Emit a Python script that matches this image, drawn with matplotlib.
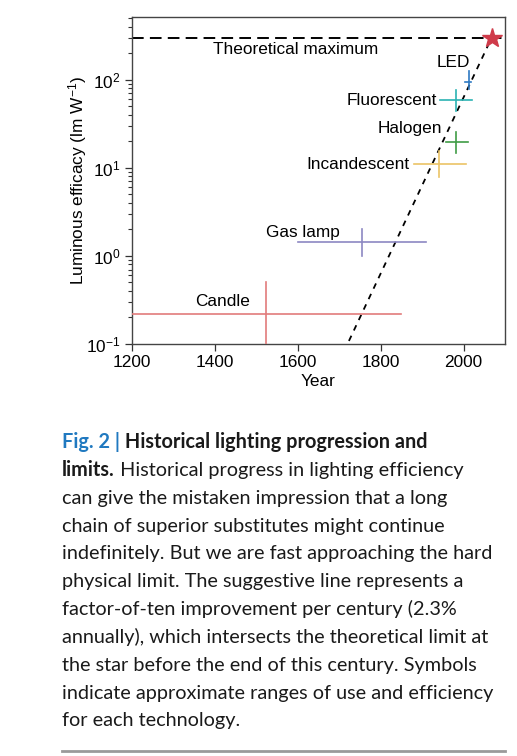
import matplotlib
matplotlib.use("Agg")
import matplotlib.pyplot as plt
import numpy as np
from matplotlib.lines import Line2D

plt.rcParams['font.family'] = ['Liberation Sans', 'DejaVu Sans']
plt.rcParams['mathtext.fontset'] = 'custom'
plt.rcParams['mathtext.rm'] = 'Liberation Sans'
plt.rcParams['mathtext.it'] = 'Liberation Sans:italic'
plt.rcParams['mathtext.bf'] = 'Liberation Sans:bold'

# technology ranges: years of use and luminous efficacy (lm/W)
techs = ["Candle", "Gas lamp", "Incandescent", "Halogen", "Fluorescent", "LED"]
year_lo = [1200, 1600, 1880, 1957, 1943, 2003]
year_mid = [1525, 1755, 1940, 1983, 1982, 2012]
year_hi = [1850, 1910, 2005, 2011, 2021, 2019]
eff_lo = [0.1, 1.0, 7.8, 14.7, 44, 79]
eff_mid = [0.22, 1.42, 11, 19.4, 59, 95]
eff_hi = [0.5, 2.0, 15.3, 25.4, 77, 124]
colors = ["#e27b7b", "#8c87c2", "#ebc466", "#3f9c45", "#2bb3b3", "#2d79c2"]

theoretical_max = 300
star_year = 2068
trend_years = [1700, 2068]

# label anchors (year, efficacy, ha)
label_pos = {
    "Candle": (1420, 0.30, "center"),
    "Gas lamp": (1614, 1.86, "center"),
    "Incandescent": (1869, 11, "right"),
    "Halogen": (1949, 28, "right"),
    "Fluorescent": (1937, 58, "right"),
    "LED": (1976, 157, "center"),
}

fs = 12.4

fig = plt.figure(figsize=(5.17, 7.56), dpi=100)
ax = fig.add_axes([0.2547, 0.545, 0.7221, 0.432])

ax.set_yscale('log')
ax.set_xlim(1200, 2100)
ax.set_ylim(0.1, 10 ** 2.706)

# theoretical maximum
ax.axhline(theoretical_max, color='black', lw=1.4, dashes=(6, 3.2), zorder=2)
ax.text(1595, 220, "Theoretical maximum", ha='center', va='center', fontsize=fs)

# factor of ten per century
ty = np.array(trend_years, dtype=float)
ax.plot(ty, theoretical_max * 10 ** ((ty - star_year) / 100.0), color='black',
        lw=1.3, dashes=(3.2, 3.2), zorder=3)
ax.plot([star_year], [theoretical_max], marker='*', color='#cf3b4a', ms=15,
        mec='#cf3b4a', zorder=5, clip_on=False)

for i, name in enumerate(techs):
    c = colors[i]
    ax.plot([year_lo[i], year_hi[i]], [eff_mid[i], eff_mid[i]], color=c, lw=1.2, zorder=4)
    ax.plot([year_mid[i], year_mid[i]], [eff_lo[i], eff_hi[i]], color=c, lw=1.2, zorder=4)
    lx, ly, ha = label_pos[name]
    ax.text(lx, ly, name, ha=ha, va='center', fontsize=fs)

ax.set_xticks([1200, 1400, 1600, 1800, 2000])
ax.set_xlabel("Year", fontsize=fs, labelpad=3)
ax.set_ylabel("Luminous efficacy (lm W$^{-1}$)", fontsize=fs, labelpad=-2)
ax.tick_params(axis='both', which='major', direction='out', length=5, width=0.9,
               labelsize=fs, color='#333333', pad=3)
ax.tick_params(axis='y', which='minor', direction='out', length=3, width=0.8, color='#333333')
ax.tick_params(axis='x', which='minor', bottom=False)
for s in ax.spines.values():
    s.set_color('#444444')
    s.set_linewidth(1.0)

# caption
renderer = fig.canvas.get_renderer()
W, H = fig.get_size_inches() * fig.dpi
cap_font = ['Lato', 'DejaVu Sans']
cap_size = 14.3
blue = '#2079c0'
ink = '#1a1a1a'

caption = [
    [("Fig. 2 |", 'bold', blue), (" Historical lighting progression and", 'bold', ink)],
    [("limits.", 'bold', ink), (" Historical progress in lighting efficiency", 'normal', ink)],
    [("can give the mistaken impression that a long", 'normal', ink)],
    [("chain of superior substitutes might continue", 'normal', ink)],
    [("indefinitely. But we are fast approaching the hard", 'normal', ink)],
    [("physical limit. The suggestive line represents a", 'normal', ink)],
    [("factor-of-ten improvement per century (2.3%", 'normal', ink)],
    [("annually), which intersects the theoretical limit at", 'normal', ink)],
    [("the star before the end of this century. Symbols", 'normal', ink)],
    [("indicate approximate ranges of use and efficiency", 'normal', ink)],
    [("for each technology.", 'normal', ink)],
]

x0 = 62
base0 = 448.3
step = 27.8
for k, runs in enumerate(caption):
    x = x0
    yb = H - (base0 + k * step)
    for txt, wt, col in runs:
        t = fig.text(x / W, yb / H, txt, fontsize=cap_size, family=cap_font,
                     weight=wt, color=col, ha='left', va='baseline')
        bb = t.get_window_extent(renderer=renderer)
        x += bb.width

fig.add_artist(Line2D([62 / W, 505 / W], [1 - 751 / H, 1 - 751 / H],
                      color='#9a9a9a', lw=2.0, transform=fig.transFigure))

fig.savefig("out.png", dpi=100)
